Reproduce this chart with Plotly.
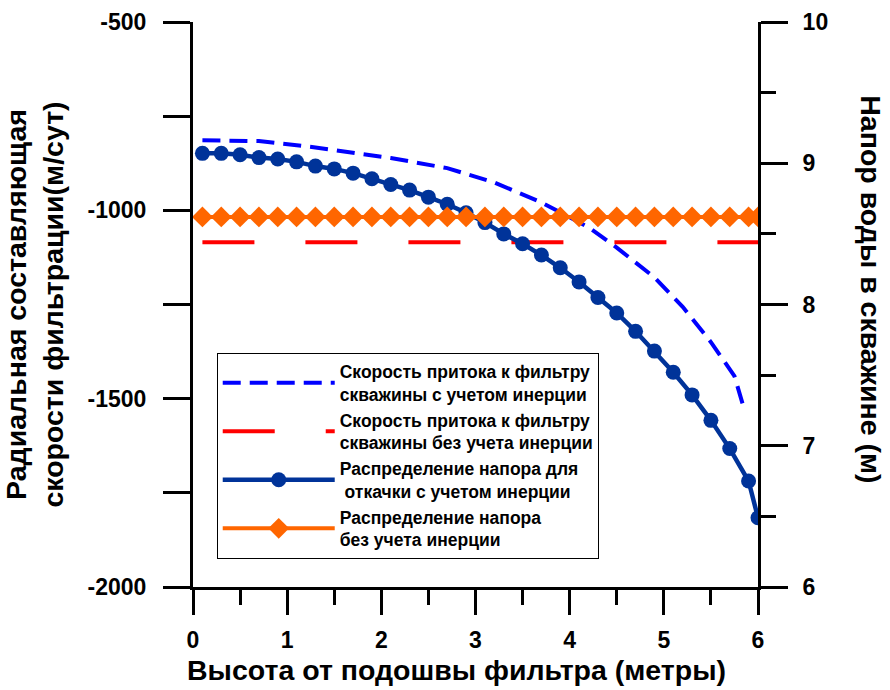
import plotly.graph_objects as go

# ---- data ----
x_head = [0.1, 0.3, 0.5, 0.7, 0.9, 1.1, 1.3, 1.5, 1.7, 1.9, 2.1, 2.3, 2.5, 2.7, 2.9,
          3.1, 3.3, 3.5, 3.7, 3.9, 4.1, 4.3, 4.5, 4.7, 4.9, 5.1, 5.3, 5.5, 5.7, 5.9, 6.0]
head_inertia = [9.07, 9.07, 9.06, 9.04, 9.03, 9.01, 8.98, 8.96, 8.93, 8.89, 8.85, 8.81,
                8.76, 8.71, 8.65, 8.58, 8.50, 8.43, 8.35, 8.26, 8.16, 8.05, 7.94, 7.81,
                7.67, 7.52, 7.36, 7.18, 6.98, 6.75, 6.49]
head_no_inertia = [8.62] * len(x_head)

x_vel = [0.1, 0.7, 1.3, 2.1, 2.7, 3.2, 3.7, 4.2, 4.5, 4.9, 5.2, 5.5, 5.75, 5.85]
vel_inertia = [-814, -816, -833, -861, -888, -926, -979, -1045, -1099, -1178,
               -1256, -1350, -1440, -1525]
vel_no_inertia = [-1085] * len(x_head)

y_left_ticks = [-2000, -1500, -1000, -500]
y_left_labels = ["-2000", "-1500", "-1000", "-500"]

names = [
    "Скорость притока к фильтру<br>скважины с учетом инерции",
    "Скорость притока к фильтру<br>скважины без учета инерции",
    "Распределение напора для<br> откачки с учетом инерции",
    "Распределение напора<br>без учета инерции",
]

FONT = "Liberation Sans, Arial, sans-serif"

fig = go.Figure()
fig.add_trace(go.Scatter(x=x_vel, y=vel_inertia, mode="lines", name=names[0],
                         line=dict(color="#0000FF", width=4, dash="18px,9px"), yaxis="y"))
fig.add_trace(go.Scatter(x=x_head, y=vel_no_inertia, mode="lines", name=names[1],
                         line=dict(color="#FF0000", width=4, dash="52px,51px"), yaxis="y"))
fig.add_trace(go.Scatter(x=x_head, y=head_inertia, mode="lines+markers", name=names[2],
                         line=dict(color="#003399", width=4.5),
                         marker=dict(symbol="circle", size=15, color="#003399"), yaxis="y2"))
fig.add_trace(go.Scatter(x=x_head, y=head_no_inertia, mode="lines+markers", name=names[3],
                         line=dict(color="#FF6600", width=4),
                         marker=dict(symbol="diamond", size=16, color="#FF6600"), yaxis="y2"))

tickfont = dict(family=FONT, size=23, color="black", weight="bold")
titlefont = dict(family=FONT, size=28.5, color="black", weight="bold")

fig.update_layout(
    width=890, height=690,
    margin=dict(l=193, r=132, t=22, b=103),
    paper_bgcolor="white", plot_bgcolor="white",
    font=dict(family=FONT, color="black"),
    showlegend=True,
    legend=dict(x=0.042, y=0.415, xanchor="left", yanchor="top",
                bgcolor="white", bordercolor="black", borderwidth=1,
                font=dict(family=FONT, size=17.5, color="black", weight="bold"),
                itemwidth=112, tracegroupgap=0),
    xaxis=dict(range=[0, 6], dtick=1, tick0=0, showgrid=False, zeroline=False,
               automargin=False,
               showline=True, linecolor="black", linewidth=3,
               ticks="outside", ticklen=25, tickwidth=3, tickcolor="black",
               ticklabelstandoff=5,
               minor=dict(dtick=0.5, ticks="outside", ticklen=15, tickwidth=3, tickcolor="black"),
               tickfont=tickfont),
    yaxis=dict(range=[-2000, -500], tickmode="array", tickvals=y_left_ticks,
               ticktext=y_left_labels, showgrid=False, zeroline=False,
               automargin=False,
               showline=True, linecolor="black", linewidth=3,
               ticks="outside", ticklen=27, tickwidth=3, tickcolor="black",
               ticklabelstandoff=12,
               minor=dict(dtick=250, tick0=-2000, ticks="outside", ticklen=27, tickwidth=3,
                          tickcolor="black"),
               tickfont=tickfont,
               title=dict(text="Радиальная составляющая<br>скорости фильтрации(м/сут)", standoff=34,
                          font=titlefont)),
    yaxis2=dict(range=[6, 10], dtick=1, tick0=6, overlaying="y", side="right",
                showgrid=False, zeroline=False, automargin=False,
                showline=True, linecolor="black", linewidth=3,
                ticks="outside", ticklen=27, tickwidth=3, tickcolor="black",
                ticklabelstandoff=10,
                minor=dict(dtick=0.5, ticks="outside", ticklen=15, tickwidth=3, tickcolor="black"),
                tickfont=tickfont),
    annotations=[
        dict(text="Напор воды в скважине (м)", xref="paper", yref="paper",
             x=1.2, y=0.527, xanchor="center", yanchor="middle", textangle=90,
             showarrow=False, font=titlefont),
        dict(text="Высота от подошвы фильтра (метры)", xref="paper", yref="paper",
             x=0.467, y=-0.147, xanchor="center", yanchor="middle",
             showarrow=False, font=titlefont),
    ],
)

fig.write_html("out.html")
